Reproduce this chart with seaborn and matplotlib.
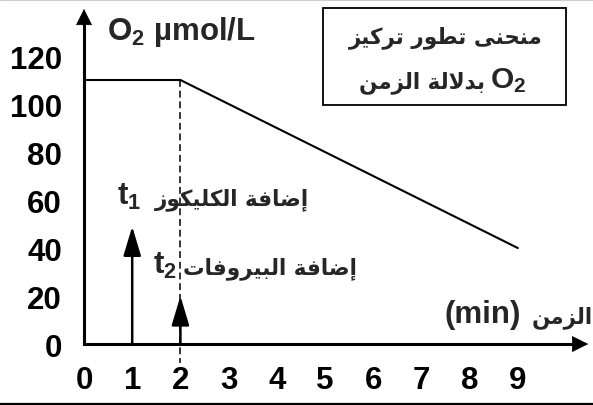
import numpy as np
import pandas as pd
import seaborn as sns
import matplotlib
matplotlib.use("Agg")
import matplotlib.pyplot as plt
from matplotlib.patches import Rectangle
from matplotlib.lines import Line2D

# ---------------- data ----------------
time_min = [0, 2, 9]
o2_umol = [110, 110, 40]
x_ticks = [0, 1, 2, 3, 4, 5, 6, 7, 8, 9]
y_ticks = [0, 20, 40, 60, 80, 100, 120]
t1_time, t1_arrow_top = 1, 49
t2_time, t2_arrow_top = 2, 20

title_line1 = "منحنى تطور تركيز"
title_line2 = "بدلالة الزمن"
x_label_ar = "الزمن"
x_label_unit = "(min)"
y_label = "O$_2$ µmol/L"
t1_text = "إضافة الكليكوز"
t2_text = "إضافة البيروفات"

# ---------------- minimal Arabic shaping (presentation forms + visual order) ----------------
DUAL = {'\u0628': 0xFE8F, '\u062A': 0xFE95, '\u062D': 0xFEA1, '\u0636': 0xFEBD,
        '\u0637': 0xFEC1, '\u0641': 0xFED1, '\u0643': 0xFED9, '\u0644': 0xFEDD,
        '\u0645': 0xFEE1, '\u0646': 0xFEE5, '\u064A': 0xFEF1}
RIGHT = {'\u0627': 0xFE8D, '\u0625': 0xFE87, '\u0629': 0xFE93, '\u062F': 0xFEA9,
         '\u0631': 0xFEAD, '\u0632': 0xFEAF, '\u0648': 0xFEED, '\u0649': 0xFEEF}
LAMALEF = {'\u0627': 0xFEFB, '\u0625': 0xFEF9}


def shape(s):
    toks = []
    i = 0
    while i < len(s):
        c = s[i]
        if c == '\u0644' and i + 1 < len(s) and s[i + 1] in LAMALEF:
            toks.append(('LA', LAMALEF[s[i + 1]]))
            i += 2
        else:
            toks.append(('C', c))
            i += 1

    def kind(t):
        if t[0] == 'LA':
            return 'R'
        if t[1] in DUAL:
            return 'D'
        if t[1] in RIGHT:
            return 'R'
        return 'N'

    out = []
    for j, t in enumerate(toks):
        k = kind(t)
        pj = j > 0 and kind(toks[j - 1]) == 'D' and k in 'DR'
        nj = k == 'D' and j + 1 < len(toks) and kind(toks[j + 1]) in 'DR'
        if t[0] == 'LA':
            out.append(chr(t[1] + (1 if pj else 0)))
            continue
        c = t[1]
        if k == 'N':
            out.append(c)
            continue
        base = DUAL.get(c) or RIGHT.get(c)
        if k == 'R':
            out.append(chr(base + (1 if pj else 0)))
        else:
            off = 3 if (pj and nj) else 1 if pj else 2 if nj else 0
            out.append(chr(base + off))
    return ''.join(reversed(out))


# ---------------- plot ----------------
sns.set_theme(style="white")
plt.rcParams['font.family'] = ['Liberation Sans', 'DejaVu Sans']
plt.rcParams['font.weight'] = 'bold'
plt.rcParams['mathtext.fontset'] = 'custom'
plt.rcParams['mathtext.rm'] = 'Liberation Sans:bold'
plt.rcParams['mathtext.it'] = 'Liberation Sans:bold'
plt.rcParams['mathtext.bf'] = 'Liberation Sans:bold'
plt.rcParams['mathtext.default'] = 'rm'

LAT = ['Liberation Sans', 'DejaVu Sans']
ARF = ['DejaVu Sans']
LAT_SIZE = 22.5
AR_SIZE = 15.5

fig = plt.figure(figsize=(5.93, 4.06), dpi=100)
ax = fig.add_axes([0, 0, 1, 1])
ax.set_facecolor('none')

df = pd.DataFrame({"t": time_min, "o2": o2_umol})
sns.lineplot(data=df, x="t", y="o2", color="black", lw=1.5, ax=ax)
ax.set_xlabel("")
ax.set_ylabel("")

ax.set_xlim(-1.743, 10.56)
ax.set_ylim(-25.4, 143.75)

for s in ("top", "right"):
    ax.spines[s].set_visible(False)
ax.spines["left"].set_position(("data", 0))
ax.spines["bottom"].set_position(("data", 0))
ax.spines["left"].set_bounds(0, 134)
ax.spines["bottom"].set_bounds(0, 10.2)
for s in ("left", "bottom"):
    ax.spines[s].set_linewidth(2.2)
    ax.spines[s].set_color("black")

ax.set_xticks(x_ticks)
ax.set_xticklabels([str(v) for v in x_ticks])
ax.set_yticks(y_ticks)
ax.set_yticklabels([str(v) for v in y_ticks])
ax.tick_params(axis="both", direction="out", length=8, width=2.2,
               colors="black", labelsize=LAT_SIZE)
ax.tick_params(axis="x", pad=7)
ax.tick_params(axis="y", pad=8)
for lab in ax.get_xticklabels() + ax.get_yticklabels():
    lab.set_fontweight("bold")
    lab.set_family(LAT)

# axis arrowheads
head = dict(arrowstyle="-|>,head_length=0.9,head_width=0.45", color="black",
            lw=0.5, mutation_scale=12, shrinkA=0, shrinkB=0)
ax.annotate("", xy=(0, 139.6), xytext=(0, 132), arrowprops=head)
ax.annotate("", xy=(10.46, 0), xytext=(10.1, 0), arrowprops=head)

# dashed marker at t2
ax.plot([t2_time, t2_time], [o2_umol[1], -8], color="black", lw=1.1,
        ls=(0, (4.5, 2.5)))

# event arrows
ev = dict(arrowstyle="-|>,head_length=1.5,head_width=0.45", color="black",
          lw=1.8, mutation_scale=12, shrinkA=0, shrinkB=0)
ax.annotate("", xy=(t1_time, t1_arrow_top), xytext=(t1_time, 0), arrowprops=ev)
ax.annotate("", xy=(t2_time, t2_arrow_top), xytext=(t2_time, 0), arrowprops=ev)

# texts
ax.text(0.477, 127.1, y_label, fontsize=LAT_SIZE, family=LAT,
        ha="left", va="baseline")
ax.text(0.68, 58.3, "t$_1$", fontsize=LAT_SIZE, family=LAT,
        ha="left", va="baseline")
ax.text(1.47, 58.3, shape(t1_text), fontsize=AR_SIZE, fontweight="bold", family=ARF,
        ha="left", va="baseline")
ax.text(1.43, 29.6, "t$_2$", fontsize=LAT_SIZE, family=LAT,
        ha="left", va="baseline")
ax.text(2.06, 29.6, shape(t2_text), fontsize=AR_SIZE, fontweight="bold", family=ARF,
        ha="left", va="baseline")
ax.text(7.47, 9.2, x_label_unit, fontsize=LAT_SIZE, fontweight="bold", family=LAT,
        ha="left", va="baseline")
ax.text(10.55, 9.2, shape(x_label_ar), fontsize=AR_SIZE, fontweight="bold", family=ARF,
        ha="right", va="baseline")

# title box
fig.patches.append(Rectangle((323 / 593, 1 - 106 / 406), 243 / 593, 97 / 406,
                             transform=fig.transFigure, fill=False,
                             edgecolor="black", lw=1.3))
ax.text(7.51, 125.8, shape(title_line1), fontsize=AR_SIZE, fontweight="bold", family=ARF,
        ha="center", va="baseline")
ax.text(8.32, 107.1, shape(title_line2), fontsize=AR_SIZE, fontweight="bold", family=ARF,
        ha="right", va="baseline")
ax.text(8.42, 107.1, "O$_2$", fontsize=LAT_SIZE - 1, family=LAT,
        ha="left", va="baseline")

# frame lines of the original picture
fig.add_artist(Line2D([0, 1], [1.5 / 406, 1.5 / 406], transform=fig.transFigure,
                      color="black", lw=1.6))
fig.add_artist(Line2D([0, 1], [1 - 0.5 / 406, 1 - 0.5 / 406], transform=fig.transFigure,
                      color="#cccccc", lw=0.8))

fig.savefig("out.png", dpi=100)
